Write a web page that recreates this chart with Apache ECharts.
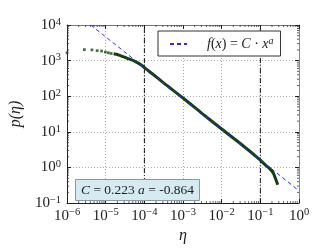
<!DOCTYPE html>
<html><head><meta charset="utf-8">
<script src="https://cdn.jsdelivr.net/npm/echarts@6/dist/echarts.min.js"></script>
<style>html,body{margin:0;padding:0;background:#fff}#c{width:332px;height:249px}</style>
</head><body><div id="c"></div>
<script>
// sparse individual points (η, p)
const sparseX = [1.0e-6, 2.8e-6, 4.4e-6, 6.0e-6, 7.8e-6, 9.8e-6, 1.17e-5, 1.38e-5];
const sparseY = [1660, 2040, 2000, 1905, 1860, 1740, 1660, 1585];
// dense part of the measured curve
const curveX = [1.6e-5, 2.3e-5, 3.5e-5, 5.9e-5, 8.5e-5, 1.0e-4, 1.6e-4, 3.2e-4, 1.0e-3, 3.2e-3, 1.0e-2, 3.2e-2, 1.0e-1, 1.32e-1, 1.74e-1, 2.14e-1, 2.45e-1, 2.82e-1];
const curveY = [1550, 1410, 1175, 940, 740, 635, 427, 234, 89, 32, 12, 4.5, 1.62, 1.2, 0.93, 0.71, 0.50, 0.33];
// fit line f(x)=C·x^a endpoints
const fitX = [4.1e-6, 1];
const fitY = [10000, 0.223];
// vertical reference lines
const vLines = [1e-4, 1e-1];
// tick exponents
const xTickExp = [-6, -5, -4, -3, -2, -1, 0];
const yTickExp = [-1, 0, 1, 2, 3, 4];

const serif = '"Liberation Serif", "DejaVu Serif", serif';
const labelFmt = v => {
  const e = Math.round(Math.log10(v));
  return '{b|10}{s|' + (e < 0 ? '\u2212' + (-e) : e) + '}';
};
const rich = {
  b: {fontFamily: serif, fontSize: 15, color: '#222', lineHeight: 17},
  s: {fontFamily: serif, fontSize: 10.5, color: '#222', verticalAlign: 'top', lineHeight: 17}
};
const minorMult = [2,3,4,5,6,7,8,9];
const xMinor = [], yMinor = [];
xTickExp.slice(0, -1).forEach(e => minorMult.forEach(m => xMinor.push([m * Math.pow(10, e), 1])));
yTickExp.slice(0, -1).forEach(e => minorMult.forEach(m => yMinor.push([1e-3, m * Math.pow(10, e)])));

const chart = echarts.init(document.getElementById('c'), null, {renderer: 'canvas'});
const axCommon = {
  type: 'log', logBase: 10,
  axisTick: {inside: true, length: 4, lineStyle: {color: '#222'}},
};
const vSeries = vLines.map(v => ({
  type: 'line', data: [[v, 0.1], [v, 1e4]], symbol: 'none', silent: true, z: 2,
  lineStyle: {color: '#111', type: [5, 2, 1, 2], width: 1}
}));
chart.setOption({
  animation: false,
  backgroundColor: '#fff',
  grid: {left: 57, right: 33, top: 25, bottom: 38},
  title: {
    text: '{i|C} = 0.223 {i|a} = -0.864',
    left: 75, top: 179,
    backgroundColor: '#d4ecf1', borderColor: '#8a9a9c', borderWidth: 1,
    padding: [4, 6],
    textStyle: {
      fontFamily: serif, fontSize: 13.5, fontWeight: 'normal', color: '#222', lineHeight: 14,
      rich: {i: {fontFamily: serif, fontSize: 13.5, fontStyle: 'italic', color: '#222', lineHeight: 14}}
    }
  },
  legend: {
    data: ['fit'], left: 158, top: 31,
    backgroundColor: '#fff', borderColor: '#333', borderWidth: 1, borderRadius: 0,
    padding: [5, 7, 5, 11], itemWidth: 17, itemHeight: 10,
    itemStyle: {opacity: 0},
    formatter: () => '{p|}{i|f}({i|x}) = {i|C} \u00b7 {i|x}{s|a}',
    textStyle: {
      fontFamily: serif, fontSize: 14, color: '#222',
      rich: {
        p: {width: 15},
        i: {fontFamily: serif, fontSize: 14, fontStyle: 'italic', color: '#222', lineHeight: 16},
        s: {fontFamily: serif, fontSize: 10, fontStyle: 'italic', color: '#222', verticalAlign: 'top', lineHeight: 16}
      }
    }
  },
  xAxis: [
    Object.assign({}, axCommon, {
      min: 1e-6, max: 1, position: 'bottom',
      axisLine: {lineStyle: {color: '#222'}},
      axisLabel: {formatter: labelFmt, rich: rich, margin: 4, color: '#222'},
      splitLine: {show: true, lineStyle: {color: '#aaa', type: [1, 2]}},
      name: '\u03b7', nameLocation: 'middle', nameGap: 24,
      nameTextStyle: {fontFamily: serif, fontSize: 16, fontStyle: 'italic', color: '#222'}
    }),
    Object.assign({}, axCommon, {
      min: 1e-6, max: 1, position: 'top',
      axisLine: {lineStyle: {color: '#777'}},
      axisLabel: {show: false}, splitLine: {show: false}
    })
  ],
  yAxis: [
    Object.assign({}, axCommon, {
      min: 0.1, max: 1e4, position: 'left',
      axisLine: {lineStyle: {color: '#222'}},
      axisLabel: {formatter: labelFmt, rich: rich, margin: 6, color: '#222'},
      splitLine: {show: true, lineStyle: {color: '#aaa', type: [1, 2]}},
      name: 'p(\u03b7)', nameLocation: 'middle', nameGap: 27,
      nameTextStyle: {fontFamily: serif, fontSize: 16, fontStyle: 'italic', color: '#222'}
    }),
    Object.assign({}, axCommon, {
      min: 0.1, max: 1e4, position: 'right',
      axisLine: {lineStyle: {color: '#888'}},
      axisLabel: {show: false}, splitLine: {show: false}
    })
  ],
  series: vSeries.concat([
    {
      name: 'data', type: 'line', data: curveX.map((x, i) => [x, curveY[i]]),
      showSymbol: false, symbol: 'none', smooth: 0.3, lineStyle: {color: '#123f12', width: 3}, z: 3
    },
    {
      name: 'pts', type: 'scatter', data: sparseX.map((x, i) => [x, sparseY[i]]),
      symbol: 'rect', symbolSize: 2.8, itemStyle: {color: '#1b4d1b'}, z: 3
    },
    {
      name: 'fit', type: 'line', data: fitX.map((x, i) => [x, fitY[i]]),
      symbol: 'none', lineStyle: {color: '#2a2aff', width: 1, type: [4, 3]}, z: 4,
      itemStyle: {color: '#2a2aff'}
    },
    {
      type: 'custom', silent: true, clip: false, z: 5,
      data: xMinor,
      renderItem: (p, api) => {
        const v = api.value(0);
        const b = api.coord([v, 0.1]), t = api.coord([v, 1e4]);
        const st = {stroke: '#333', lineWidth: 0.8};
        return {type: 'group', children: [
          {type: 'line', shape: {x1: b[0], y1: b[1], x2: b[0], y2: b[1] - 2}, style: st},
          {type: 'line', shape: {x1: t[0], y1: t[1], x2: t[0], y2: t[1] + 2}, style: st}
        ]};
      }
    },
    {
      type: 'custom', silent: true, clip: false, z: 5,
      data: yMinor,
      renderItem: (p, api) => {
        const v = api.value(1);
        const l = api.coord([1e-6, v]), r = api.coord([1, v]);
        const st = {stroke: '#333', lineWidth: 0.8};
        return {type: 'group', children: [
          {type: 'line', shape: {x1: l[0], y1: l[1], x2: l[0] + 2, y2: l[1]}, style: st},
          {type: 'line', shape: {x1: r[0], y1: r[1], x2: r[0] - 2, y2: r[1]}, style: st}
        ]};
      }
    }
  ])
});
</script></body></html>
